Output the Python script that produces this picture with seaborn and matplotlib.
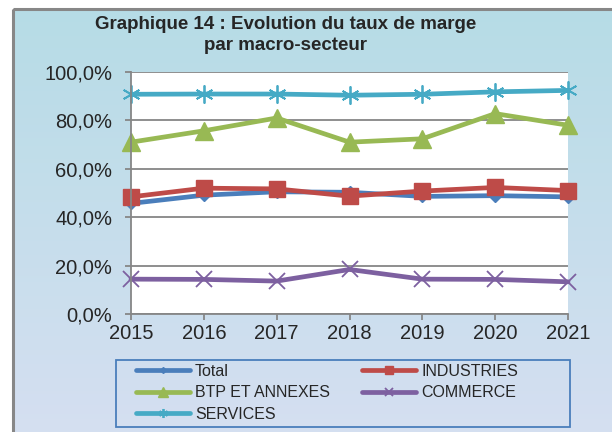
import numpy as np
import matplotlib
matplotlib.use("Agg")
import matplotlib.pyplot as plt
import seaborn as sns
from matplotlib.patches import Rectangle

# data
years = [2015, 2016, 2017, 2018, 2019, 2020, 2021]
total = [45.7, 49.1, 50.5, 50.3, 48.6, 48.9, 48.4]
industries = [48.4, 52.0, 51.7, 48.7, 50.8, 52.3, 51.0]
btp = [71.0, 75.7, 81.0, 71.0, 72.4, 82.8, 78.0]
commerce = [14.4, 14.3, 13.6, 18.4, 14.4, 14.3, 13.3]
services = [90.8, 90.9, 90.9, 90.4, 90.8, 91.8, 92.4]

series_names = ["Total", "INDUSTRIES", "BTP ET ANNEXES", "COMMERCE", "SERVICES"]
y_ticks = [0, 20, 40, 60, 80, 100]
y_labels = ["0,0%", "20,0%", "40,0%", "60,0%", "80,0%", "100,0%"]
title = "Graphique 14 : Evolution du taux de marge\npar macro-secteur"

sns.set_style("white")
plt.rcParams["font.family"] = ["Liberation Sans", "DejaVu Sans"]

fig = plt.figure(figsize=(6.12, 4.32), dpi=100)

# gradient background with grey frame
bg = fig.add_axes([0, 0, 1, 1], zorder=-10)
bg.set_xlim(0, 612)
bg.set_ylim(432, 0)
bg.axis("off")
grad = np.linspace(0, 1, 256).reshape(-1, 1)
top = np.array([0.714, 0.863, 0.902])
bottom = np.array([0.835, 0.875, 0.945])
img = (top + (bottom - top) * grad[..., None]).reshape(256, 1, 3)
bg.imshow(img, extent=[13, 612, 432, 9], aspect="auto")
bg.add_patch(Rectangle((13, 9), 700, 500, fill=False, edgecolor="#878787", lw=2.2))
# legend box
bg.add_patch(Rectangle((116, 360), 454, 67, fill=False, edgecolor="#4a7ebb", lw=1.3))

ax = fig.add_axes([131 / 612, 1 - 314 / 432, 437 / 612, 242 / 432])
ax.set_facecolor("white")

styles = [
    (total, "#4a7ebb", "D", 6, 1.0),
    (industries, "#be4b48", "s", 11, 1.0),
    (btp, "#98b954", "^", 13, 1.0),
    (commerce, "#7d60a0", "x", 12, 1.3),
    (services, "#46aac5", (6, 2, 0), 13, 1.3),
]

handles = []
for name, (vals, col, mk, ms, mew) in zip(series_names, styles):
    sns.lineplot(x=years, y=vals, ax=ax, color=col, marker=mk, markersize=ms,
                 markeredgewidth=mew, markeredgecolor=col, linewidth=3.4,
                 label=name, clip_on=False, legend=False)
    handles.append(ax.lines[-1])

ax.set_xlim(2015, 2021)
ax.set_ylim(0, 100)
ax.set_xticks(years)
ax.set_xticklabels([str(y) for y in years])
ax.set_yticks(y_ticks)
ax.set_yticklabels(y_labels)
ax.yaxis.grid(True, color="#868686", linewidth=1.3)
ax.set_axisbelow(True)
for side in ["top", "right"]:
    ax.spines[side].set_visible(False)
for side in ["left", "bottom"]:
    ax.spines[side].set_color("#868686")
    ax.spines[side].set_linewidth(1.3)
ax.tick_params(axis="both", direction="out", length=4.5, width=1.3, color="#868686",
               labelsize=14.5, bottom=True, left=True)
ax.tick_params(axis="y", pad=9)
ax.tick_params(axis="x", pad=3)
ax.set_xlabel("")
ax.set_ylabel("")

fig.text(0.467, 1 - 35 / 432, title, ha="center", va="center", fontsize=13.5,
         fontweight="bold", linespacing=1.38)

order = [0, 2, 4, 1, 3]
leg = fig.legend([handles[i] for i in order], [series_names[i] for i in order],
                 ncol=2, loc="upper left",
                 bbox_to_anchor=(136 / 612, 1 - 364 / 432),
                 fontsize=11.5, markerscale=0.5, handlelength=3.4,
                 handletextpad=0.3, labelspacing=0.4, columnspacing=2.0,
                 borderaxespad=0, borderpad=0, frameon=False)

fig.savefig("out.png", dpi=100)
